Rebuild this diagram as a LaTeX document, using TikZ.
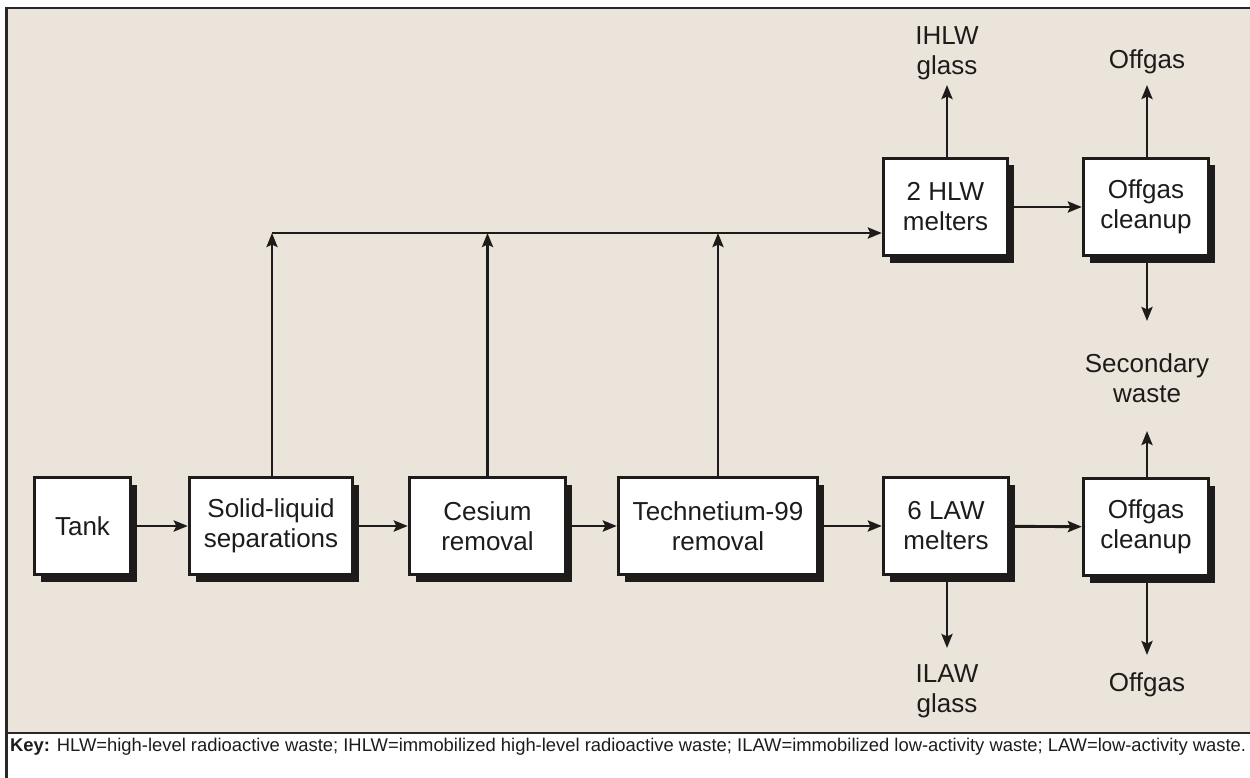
\documentclass[tikz,border=0pt]{standalone}
\usepackage{fontspec}
\setmainfont{Liberation Sans}
\usetikzlibrary{arrows.meta,shadows}
\definecolor{panel}{HTML}{EAE4DA}
\definecolor{ink}{HTML}{1E1C1A}
\definecolor{rule}{HTML}{2A2826}
\begin{document}
\begin{tikzpicture}[x=1pt,y=-1pt,
  every node/.style={font=\fontsize{26}{30}\selectfont, text=ink},
  box/.style={draw=ink, line width=3.3pt, fill=white, align=center,
    inner sep=0pt, minimum height=97pt,
    drop shadow={shadow xshift=6pt, shadow yshift=-7pt, opacity=1, fill=ink}},
  lbl/.style={align=center, inner sep=0pt, anchor=base},
  arr/.style={draw=ink, line width=2.9pt,
    -{Stealth[length=14pt, width=11pt, inset=2.5pt]}}]
\useasboundingbox (0,0) rectangle (1250,778);

% frame, panel and key strip
\fill[panel] (8,9) rectangle (1250,732);
\draw[rule, line width=2.8pt] (5.3,8) -- (1250,8);
\draw[rule, line width=2.8pt] (6.7,6.7) -- (6.7,778);
\draw[rule, line width=2.6pt] (6.7,733) -- (1250,733);

% process boxes
\node[box, minimum width=96pt]  (tank) at (82.5,526)  {Tank};
\node[box, minimum width=163pt] (sep)  at (271,526)   {Solid-liquid\\separations};
\node[box, minimum width=156pt] (cs)   at (487.5,526) {Cesium\\removal};
\node[box, minimum width=199pt] (tc)   at (718,526)   {Technetium-99\\removal};
\node[box, minimum width=125pt] (law)  at (946,526)   {6 LAW\\melters};
\node[box, minimum width=125pt] (ogl)  at (1146,527)  {Offgas\\cleanup};
\node[box, minimum width=124pt] (hlw)  at (945.5,207) {2 HLW\\melters};
\node[box, minimum width=125pt] (ogh)  at (1146,207)  {Offgas\\cleanup};

% product labels (base = baseline of the last line)
\node[lbl] (ihlw)  at (947,75)   {IHLW\\glass};
\node[lbl] (offh)  at (1147,69)  {Offgas};
\node[lbl] (sec)   at (1147,402) {Secondary\\waste};
\node[lbl] (ilaw)  at (947,712)  {ILAW\\glass};
\node[lbl] (offl)  at (1147,691) {Offgas};

% arrow tips next to the labels
\coordinate (tihlw) at (947,85);
\coordinate (toffh) at (1147,85);
\coordinate (tsecd) at (1147,321);
\coordinate (tsecu) at (1147,431);
\coordinate (tilaw) at (947,648);
\coordinate (toffl) at (1147,655);

% main flow
\draw[arr] (tank) -- (sep);
\draw[arr] (sep) -- (cs);
\draw[arr] (cs) -- (tc);
\draw[arr] (tc) -- (law);
\draw[arr] (law) -- (ogl);
\draw[arr] (hlw) -- (ogh);

% high-level branch collected on one line
\coordinate (bus) at (272,233);
\draw[arr] (sep.north -| bus) -- (bus);
\draw[arr] (cs.north) -- (cs.north |- bus);
\draw[arr] (tc.north) -- (tc.north |- bus);
\draw[arr] (bus) -- (bus -| hlw.west);

% outputs
\draw[arr] (hlw.north -| tihlw) -- (tihlw);
\draw[arr] (ogh.north -| toffh) -- (toffh);
\draw[arr] (ogh.south -| tsecd) -- (tsecd);
\draw[arr] (ogl.north -| tsecu) -- (tsecu);
\draw[arr] (law.south -| tilaw) -- (tilaw);
\draw[arr] (ogl.south -| toffl) -- (toffl);

% key
\node[anchor=base west, inner sep=0pt, font=\fontsize{18.4}{22}\selectfont] (key) at (10,751)
  {\textbf{Key:} HLW=high-level radioactive waste; IHLW=immobilized high-level radioactive waste; ILAW=immobilized low-activity waste; LAW=low-activity waste.};
\end{tikzpicture}
\end{document}
